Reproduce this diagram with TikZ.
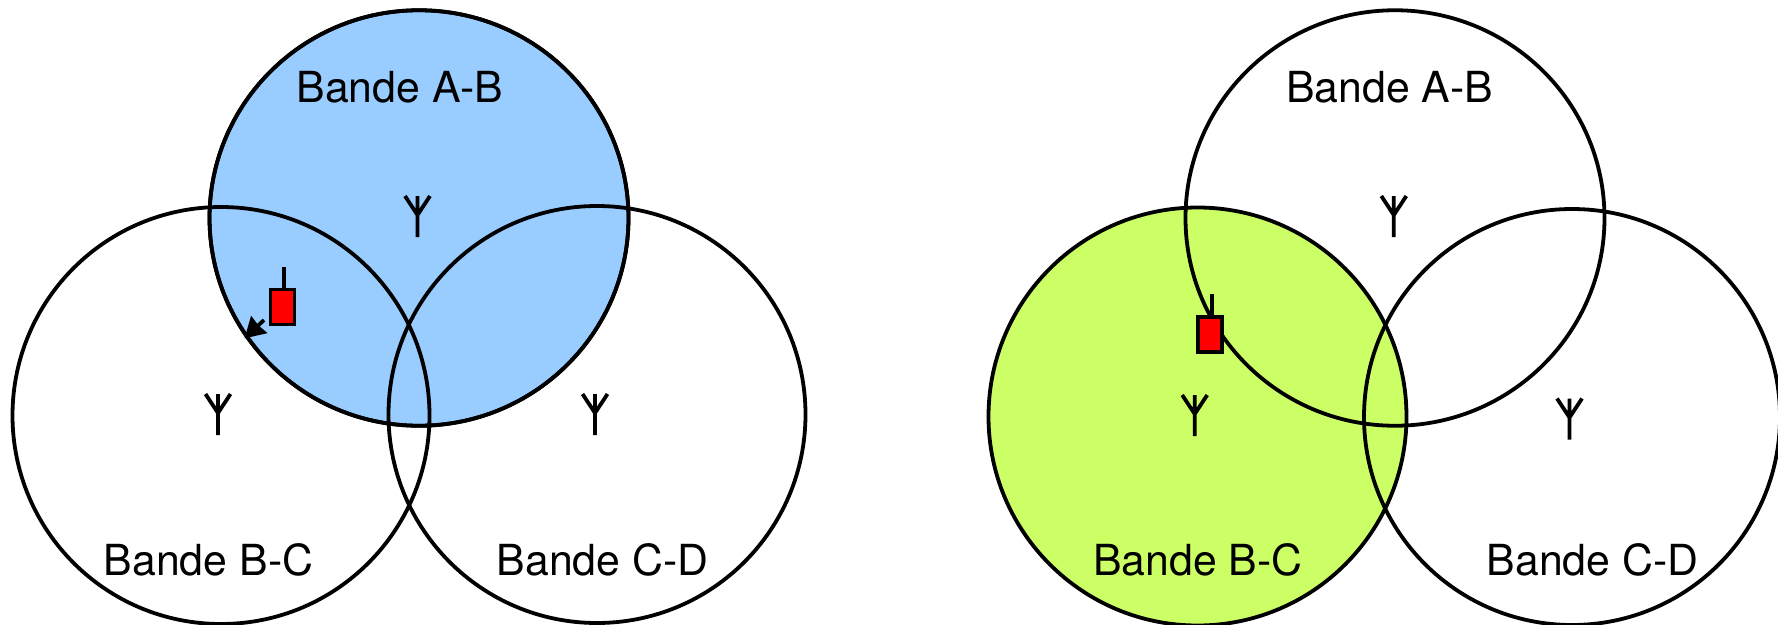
\documentclass[tikz,border=0pt]{standalone}
\usepackage{fontspec}
\setmainfont{TeX Gyre Heros}
\usetikzlibrary{arrows.meta,shapes.geometric}
\tikzset{
  ring/.style={circle,draw=black,line width=3.8pt,inner sep=0pt,minimum size=#1},
  wide ring/.style={ellipse,draw=black,line width=3.8pt,inner sep=0pt,minimum width=#1,minimum height=419pt-3.5pt},
  label text/.style={anchor=base,inner sep=0pt,font=\fontsize{42.8}{50}\selectfont,text=black},
  mobile/.style={rectangle,draw=black,fill=red,line width=3.4pt,inner sep=0pt,minimum width=24pt,minimum height=35pt},
  wire/.style={draw=black,line width=3.8pt},
  antenna/.pic={\draw[wire] (0,0) -- (0,-41) (-12.5,-41) -- (0,-22) -- (12.5,-41);}
}
\definecolor{bandblue}{HTML}{99CCFF}
\definecolor{bandgreen}{HTML}{CCFF66}
\begin{document}
\begin{tikzpicture}[x=1pt,y=-1pt]
\useasboundingbox (0,0) rectangle (1778,624);
% left group
\node[wide ring=419pt,fill=bandblue] (la) at (419,218) {};
\node[ring=417pt] (lb) at (221,415.5) {};
\node[ring=417pt] (lc) at (597,414.5) {};
\node[wide ring=419pt] (la2) at (419,218) {};
\pic at (417.5,237) {antenna};
\pic at (218,435) {antenna};
\pic at (595,435) {antenna};
\node[mobile] (lm) at (282.5,307) {};
\coordinate (lmtop) at (284.3,267);
\draw[wire] (lmtop) -- (lm.north -| lmtop);
\coordinate (lmtail) at (264,320);
\coordinate (lmtip) at (246,337);
\draw[wire,-{Stealth[length=20pt,width=23pt,inset=1pt]},shorten >=-2pt] (lmtail) -- (lmtip);
\node[label text] (lta) at (400,102) {Bande A-B};
\node[label text] (ltb) at (208.5,575) {Bande B-C};
\node[label text] (ltc) at (602.5,575) {Bande C-D};
% right group
\node[ring=418pt,fill=bandgreen] (rb) at (1197.5,416.5) {};
\node[wide ring=419pt] (ra) at (1395,218) {};
\node[ring=416pt] (rc) at (1572,417) {};
\pic at (1393.8,237) {antenna};
\pic at (1194.7,436) {antenna};
\pic at (1569.5,439.5) {antenna};
\node[mobile] (rm) at (1210,334.5) {};
\coordinate (rmtop) at (1211.7,294);
\draw[wire] (rmtop) -- (rm.north -| rmtop);
\node[label text] (rta) at (1389.5,102) {Bande A-B};
\node[label text] (rtb) at (1198,575) {Bande B-C};
\node[label text] (rtc) at (1592.5,575) {Bande C-D};
\end{tikzpicture}
\end{document}
